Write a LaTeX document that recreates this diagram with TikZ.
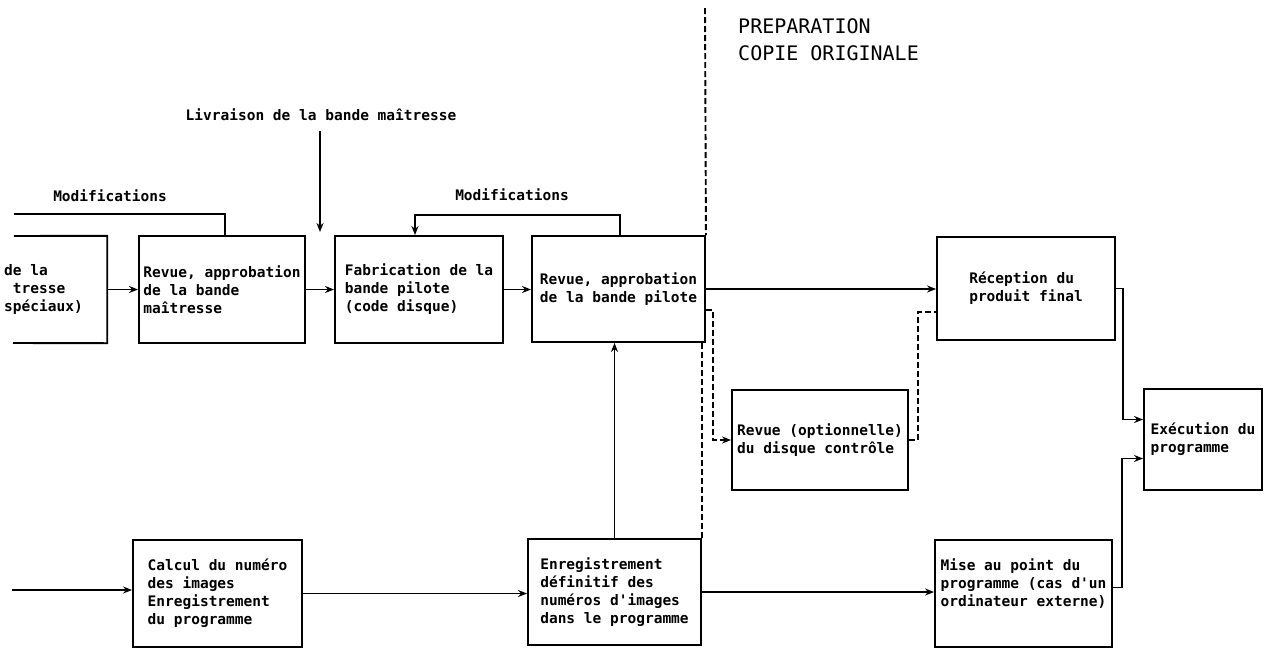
\documentclass[tikz,border=0pt]{standalone}
\usepackage{fontspec}
\newfontfamily\boxfont{DejaVu Sans Mono}
\usetikzlibrary{arrows.meta}
\tikzset{
  txt/.style={font=\boxfont\bfseries\fontsize{14.5}{18}\selectfont},
  box/.style={txt, draw, line width=1.9pt, align=left, inner sep=0pt},
  lbl/.style={txt, inner sep=0pt},
  conn/.style={line width=1.9pt},
  arr/.style={conn, -{Stealth[length=9pt,width=7pt]}},
  dsh/.style={conn, dash pattern=on 6pt off 3pt},
  head/.style={font=\boxfont\fontsize{20}{27}\selectfont, align=left, inner sep=0pt},
}
\begin{document}
\begin{tikzpicture}[x=1pt,y=-1pt]
\useasboundingbox (0,0) rectangle (1273,651);
% boxes
\node[draw=none, minimum width=274pt, minimum height=107pt, inner sep=0pt] (b1) at (-30,289.5) {};
\node[txt, anchor=west, align=left, inner sep=0pt] (b1t) at (4,289) {de la\\\hspace*{8.7pt}tresse\\spéciaux)};
\node[box, minimum width=166pt, minimum height=107pt] (b2) at (222,289.5) {Revue, approbation\\de la bande\\maîtresse};
\node[box, minimum width=168pt, minimum height=107pt] (b3) at (419,289.5) {Fabrication de la\\bande pilote\\(code disque)};
\node[box, minimum width=173pt, minimum height=106pt] (b4) at (618.5,289) {Revue, approbation\\de la bande pilote};
\node[box, minimum width=178pt, minimum height=103pt] (rec) at (1026,288.5) {Réception du\\produit final};
\node[box, minimum width=176pt, minimum height=100pt] (opt) at (820,440) {Revue (optionnelle)\\du disque contrôle};
\node[box, minimum width=118pt, minimum height=101pt] (exe) at (1203,439.5) {Exécution du\\programme};
\node[box, minimum width=169pt, minimum height=107pt] (calc) at (217.5,593.5) {Calcul du numéro\\des images\\Enregistrement\\du programme};
\node[box, minimum width=173pt, minimum height=106pt] (enr) at (614.5,592) {Enregistrement\\définitif des\\numéros d'images\\dans le programme};
\node[box, minimum width=177pt, minimum height=107pt] (mise) at (1023.5,593.5) {Mise au point du\\programme (cas d'un\\ordinateur externe)\\[4pt]};
% partial left box outline
\draw[conn] (14,236) -- (b1.north east) -- (b1.south east) -- (13,343);
% labels
\node[lbl] (liv) at (321,115) {Livraison de la bande maîtresse};
\node[lbl] (mod1) at (110,196) {Modifications};
\node[lbl] (mod2) at (512,195) {Modifications};
\node[head, anchor=north west] (prep) at (738,18) {PREPARATION\\COPIE ORIGINALE};
% connectors
\coordinate (livend) at (320,232);
\draw[arr] ([yshift=-10pt]liv.south -| livend) -- (livend);
\coordinate (m1end) at (14,214);
\draw[conn] ([xshift=3pt]b2.north) |- (m1end);
\draw[arr] ([xshift=1.5pt]b4.north) -- ++(0,-20) -| ([xshift=-4pt]b3.north);
\draw[arr] (b1.east) -- (b2.west);
\draw[arr] (b2.east) -- (b3.west);
\draw[arr] (b3.east) -- (b3.east -| b4.west);
\draw[arr] (b4.east) -- (b4.east -| rec.west);
\draw[arr] (rec.east) -- ++(7,0) |- ([yshift=20pt]exe.west);
\draw[arr] ([yshift=6pt]mise.east) -- ++(9,0) |- ([yshift=-19pt]exe.west);
\coordinate (in) at (12,590);
\draw[arr] (in) -- (in -| calc.west);
\draw[arr] (calc.east) -- (calc.east -| enr.west);
\draw[arr] (enr.east) -- (enr.east -| mise.west);
\draw[arr] (enr.north) -- (enr.north |- b4.south);
% divider
\coordinate (dtop) at (705,8);
\draw[dsh] (dtop) -- (b4.north east);
\draw[dsh] (enr.north east |- b4.south) -- (enr.north east);
% optional path
\draw[dsh, -{Stealth[length=9pt,width=7pt]}] ([yshift=-21pt]b4.east) -- ++(7,0) |- (opt.west);
\draw[dsh] (opt.east) -- ++(9,0) |- ([yshift=-23.5pt]rec.west);
\end{tikzpicture}
\end{document}
